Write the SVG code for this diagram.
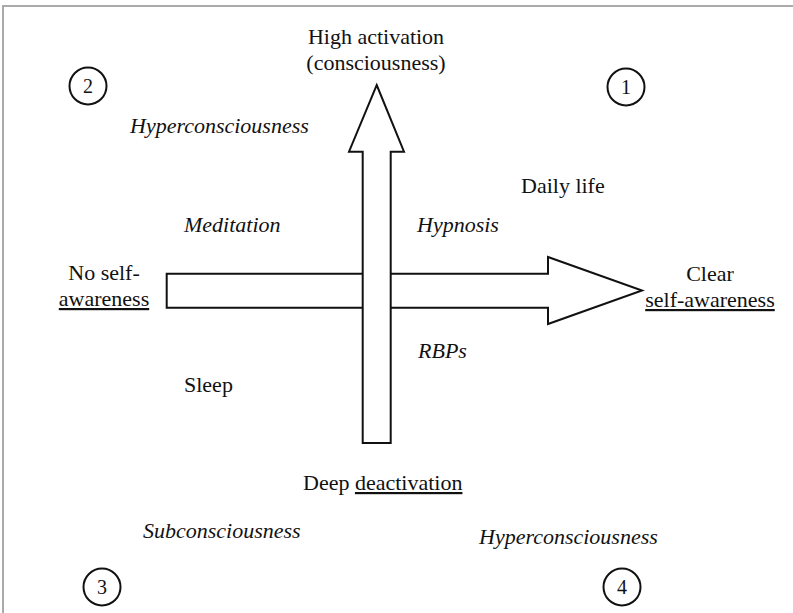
<svg xmlns="http://www.w3.org/2000/svg" width="793" height="613" viewBox="0 0 793 613">
<style>
.t{font-family:"Liberation Serif","Times New Roman",serif;font-size:22px;fill:#111}
.i{font-style:italic}
.m{text-anchor:middle}
.arrow{fill:#fff;stroke:#111;stroke-width:2;stroke-linejoin:miter}
.circ{fill:#fff;stroke:#111;stroke-width:2}
.num{font-family:"Liberation Serif","Times New Roman",serif;font-size:20px;fill:#111;text-anchor:middle}
.frame{stroke:#aaa;stroke-width:2;fill:none}
</style>
<rect width="793" height="613" fill="#fff"/>
<path class="frame" d="M3,613 V6 H793"/>
<g id="connectors">
<path id="h-arrow" class="arrow" d="M166.7,273.7 H548 V257 L642,290.5 L548,324 V307.7 H166.7 Z"/>
<path id="v-arrow" class="arrow" d="M376.7,85 L404,151.7 H390.7 V443 H362.7 V151.7 H349 Z"/>
</g>
<g id="n-top"><text class="t m" x="376" y="44">High activation</text><text class="t m" x="376" y="70">(consciousness)</text></g>
<g id="n-bottom"><text class="t" x="303" y="490">Deep <tspan text-decoration="underline">deactivation</tspan></text></g>
<g id="n-left"><text class="t m" x="104" y="280">No self-</text><text class="t m" x="104" y="306" text-decoration="underline">awareness</text></g>
<g id="n-right"><text class="t m" x="710" y="281">Clear</text><text class="t m" x="710" y="307" text-decoration="underline">self-awareness</text></g>
<g id="q1"><circle class="circ" cx="626" cy="87" r="18.5"/><text class="num" x="626" y="94">1</text></g>
<g id="q2"><circle class="circ" cx="88" cy="86" r="18.5"/><text class="num" x="88" y="93">2</text></g>
<g id="q3"><circle class="circ" cx="102" cy="587" r="18.5"/><text class="num" x="102" y="594">3</text></g>
<g id="q4"><circle class="circ" cx="622" cy="587" r="18.5"/><text class="num" x="622" y="594">4</text></g>
<g id="l-hyper1"><text class="t i" x="130" y="133">Hyperconsciousness</text></g>
<g id="l-daily"><text class="t" x="521" y="193">Daily life</text></g>
<g id="l-meditation"><text class="t i" x="184" y="232">Meditation</text></g>
<g id="l-hypnosis"><text class="t i" x="417" y="232">Hypnosis</text></g>
<g id="l-rbps"><text class="t i" x="418" y="358">RBPs</text></g>
<g id="l-sleep"><text class="t" x="184" y="392">Sleep</text></g>
<g id="l-subc"><text class="t i" x="143" y="538">Subconsciousness</text></g>
<g id="l-hyper2"><text class="t i" x="479" y="544">Hyperconsciousness</text></g>
</svg>
